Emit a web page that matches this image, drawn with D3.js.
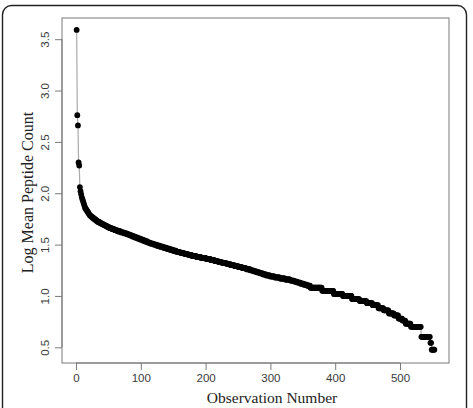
<!DOCTYPE html>
<html>
<head>
<meta charset="utf-8">
<script src="https://cdn.jsdelivr.net/npm/d3@7"></script>
<style>
  html, body { margin: 0; padding: 0; background: #fff; }
  svg { display: block; }
</style>
</head>
<body>
<svg class="obs-chart"></svg>
<script>
// sorted log mean peptide counts, stored as runs: value + how many observations share it
const runValues = [
  3.59, 2.76, 2.66, 2.30, 2.27, 2.06, 2.02, 1.99, 1.96, 1.94, 1.92, 1.90, 1.88, 1.86,
  1.85, 1.84, 1.83, 1.82, 1.81, 1.80, 1.79,
  1.78, 1.77, 1.76, 1.75, 1.74, 1.73, 1.72, 1.71, 1.70, 1.69, 1.68, 1.67, 1.66, 1.65,
  1.64, 1.63, 1.62, 1.61, 1.60, 1.59, 1.58, 1.57, 1.56, 1.55, 1.54, 1.53, 1.52, 1.51,
  1.50, 1.49, 1.48, 1.47, 1.46, 1.45, 1.44, 1.43, 1.42, 1.41, 1.40, 1.39, 1.38, 1.37,
  1.36, 1.35, 1.34, 1.33, 1.32, 1.31, 1.30, 1.29, 1.28, 1.27, 1.26, 1.25, 1.24, 1.23,
  1.22, 1.21, 1.20, 1.19, 1.18, 1.17, 1.16, 1.15, 1.14, 1.13, 1.12, 1.11, 1.10,
  1.08, 1.05, 1.02, 1.00, 0.97, 0.95, 0.93, 0.91, 0.88, 0.86, 0.83, 0.81, 0.78, 0.76,
  0.73, 0.699, 0.602, 0.544, 0.477
];
const runCounts = [
  1, 1, 1, 1, 1, 1, 1, 1, 1, 1, 1, 1, 1, 1,
  1, 1, 1, 1, 1, 1, 1,
  2, 2, 2, 2, 2, 2, 3, 3, 3, 3, 3, 3, 4, 4,
  4, 5, 5, 5, 4, 4, 4, 4, 4, 4, 4, 4, 4, 5,
  5, 5, 5, 5, 5, 5, 5, 6, 6, 6, 6, 7, 7, 8,
  7, 6, 6, 6, 7, 6, 6, 6, 6, 6, 6, 5, 5, 5,
  5, 5, 6, 7, 8, 8, 8, 6, 5, 5, 5, 5, 5,
  18, 18, 14, 14, 12, 11, 9, 9, 8, 8, 8, 7, 6, 5,
  8, 16, 14, 2, 5
];

const xTicks = [0, 100, 200, 300, 400, 500];
const yTicks = [0.5, 1.0, 1.5, 2.0, 2.5, 3.0, 3.5];

const chartWidth = 473,
      chartHeight = 408;

const boxLeft = 62,
      boxRight = 449,
      boxTop = 18,
      boxBottom = 363;

var points = [];
var obs = 1;
runValues.forEach((v, i) => {
  for (var k = 0; k < runCounts[i]; k++) {
    points.push([obs, v]);
    obs++;
  }
});

const xScale = d3.scaleLinear()
                 .domain([0, 500])
                 .range([76, 400]);

const yScale = d3.scaleLinear()
                 .domain([0.5, 3.5])
                 .range([347.3, 39.2]);

const svg = d3.select('.obs-chart')
              .attr('width', chartWidth)
              .attr('height', chartHeight);

// outer panel border
svg.append('rect')
   .attr('x', 2.5)
   .attr('y', 5.5)
   .attr('width', 464)
   .attr('height', 430)
   .attr('rx', 9)
   .attr('fill', 'none')
   .attr('stroke', '#222')
   .attr('stroke-width', 1.4);

// plot frame
svg.append('rect')
   .attr('x', boxLeft)
   .attr('y', boxTop)
   .attr('width', boxRight - boxLeft)
   .attr('height', boxBottom - boxTop)
   .attr('fill', 'none')
   .attr('stroke', '#7a7a7a')
   .attr('stroke-width', 1);

const yAxis = d3.axisLeft(yScale)
                .tickValues(yTicks)
                .tickSize(7)
                .tickPadding(9)
                .tickFormat(d3.format('.1f'));

const xAxis = d3.axisBottom(xScale)
                .tickValues(xTicks)
                .tickSize(7)
                .tickPadding(4)
                .tickFormat(d3.format('d'));

const gy = svg.append('g')
              .attr('transform', 'translate(' + boxLeft + ',0)')
              .call(yAxis);

gy.select('.domain')
  .attr('d', 'M0,' + yScale(0.5) + 'V' + yScale(3.5));

gy.selectAll('.tick text')
  .attr('transform', 'rotate(-90)')
  .attr('x', 0)
  .attr('y', -17)
  .attr('dy', null)
  .attr('text-anchor', 'middle')
  .attr('dominant-baseline', 'central');

const gx = svg.append('g')
              .attr('transform', 'translate(0,' + boxBottom + ')')
              .call(xAxis);

gx.select('.domain')
  .attr('d', 'M' + xScale(0) + ',0H' + xScale(500));

svg.selectAll('.tick line, .domain')
   .attr('stroke', '#7a7a7a');

svg.selectAll('.tick text')
   .attr('font-family', 'Liberation Sans, Arial, sans-serif')
   .attr('font-size', 11.5)
   .attr('fill', '#3a3a3a');

// connecting line in grey, points on top
const line = d3.line()
               .x(d => xScale(d[0]))
               .y(d => yScale(d[1]));

svg.append('path')
   .datum(points)
   .attr('d', line)
   .attr('fill', 'none')
   .attr('stroke', '#aaa')
   .attr('stroke-width', 1.2);

svg.selectAll('circle')
   .data(points)
   .enter()
   .append('circle')
   .attr('cx', d => xScale(d[0]))
   .attr('cy', d => yScale(d[1]))
   .attr('r', 2.9)
   .attr('fill', '#000');

svg.append('text')
   .attr('x', 272)
   .attr('y', 403)
   .attr('text-anchor', 'middle')
   .attr('font-family', 'Liberation Serif, Times New Roman, serif')
   .attr('font-size', 15.5)
   .attr('fill', '#222')
   .text('Observation Number');

svg.append('text')
   .attr('transform', 'translate(33,192.5) rotate(-90)')
   .attr('text-anchor', 'middle')
   .attr('font-family', 'Liberation Serif, Times New Roman, serif')
   .attr('font-size', 16)
   .attr('fill', '#222')
   .text('Log Mean Peptide Count');
</script>
</body>
</html>
